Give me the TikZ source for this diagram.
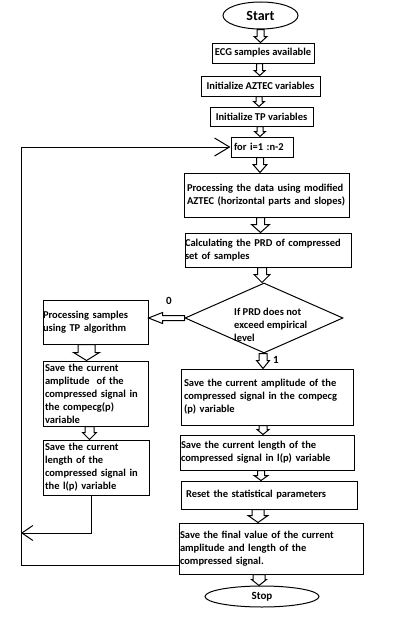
\documentclass[tikz,border=0pt]{standalone}
\usepackage{fontspec}
\setmainfont{Carlito}
\usetikzlibrary{shapes.geometric,calc,arrows.meta}
\tikzset{
  box/.style={draw, line width=1pt, rectangle, inner sep=0pt, align=left,
    font=\bfseries\fontsize{10.5}{13}\selectfont},
  cbox/.style={box, align=center},
  term/.style={draw, line width=1pt, ellipse, inner sep=0pt},
  decision/.style={draw, line width=1pt, diamond, inner sep=0pt},
  plain/.style={inner sep=0pt, align=left, font=\bfseries\fontsize{10.5}{13}\selectfont},
  blk/.style={draw, fill=white, line width=1pt, line join=miter},
  loopline/.style={draw, line width=1pt},
  hd/.style n args={3}{to path={let \p1=(\tikztostart),\p2=(\tikztotarget) in
    (\x1-#1pt,\y1) -- (\x1-#1pt,\y2+#3pt) -- (\x1-#2pt,\y2+#3pt) -- (\x1,\y2)
    -- (\x1+#2pt,\y2+#3pt) -- (\x1+#1pt,\y2+#3pt) -- (\x1+#1pt,\y1) -- cycle}},
  hl/.style n args={3}{to path={let \p1=(\tikztostart),\p2=(\tikztotarget) in
    (\x1,\y1+#1pt) -- (\x2+#3pt,\y1+#1pt) -- (\x2+#3pt,\y1+#2pt) -- (\x2,\y1)
    -- (\x2+#3pt,\y1-#2pt) -- (\x2+#3pt,\y1-#1pt) -- (\x1,\y1-#1pt) -- cycle}}
}
\begin{document}
\begin{tikzpicture}[x=1pt,y=-1pt]
\useasboundingbox (0,0) rectangle (409,621);
\fill[white] (0,0) rectangle (409,621);

\node[term, minimum width=75pt, minimum height=27pt, font=\bfseries\fontsize{14}{16}\selectfont] (start) at (260.5,15.5) {Start};
\node[cbox, minimum width=102pt, minimum height=20pt] (ecg) at (263,53) {ECG samples available};
\node[cbox, minimum width=119pt, minimum height=20pt] (aztec) at (260.5,86) {Initialize AZTEC variables};
\node[cbox, minimum width=103pt, minimum height=19pt] (tp) at (261.5,116.5) {Initialize TP variables};
\node[box, minimum width=62pt, minimum height=20pt, text width=56pt] (for) at (262,147) {for i=1 :n-2};
\node[box, minimum width=165pt, minimum height=44pt, text width=159pt] (proc) at (266.5,195) {\mbox{Processing the data using modified}\\\mbox{AZTEC (horizontal parts and slopes)}};
\node[box, minimum width=166pt, minimum height=34pt, text width=166pt] (calc) at (268,250) {\mbox{Calculating the PRD of compressed}\\\mbox{set of samples}};
\node[decision, minimum width=158pt, minimum height=70pt] (dia) at (264,318) {};
\node[plain, anchor=west] (dtext) at (234,325) {If PRD does not\\exceed empirical\\level};
\node[box, minimum width=105pt, minimum height=44pt, text width=105pt] (tpproc) at (95.5,322) {\mbox{Processing samples}\\\mbox{using TP algorithm}};
\node[box, minimum width=105pt, minimum height=65pt, text width=101pt] (lamp) at (95.5,393.5) {\mbox{Save the current}\\\mbox{amplitude\ \ of the}\\\mbox{compressed signal in}\\\mbox{the compecg(p)}\\\mbox{variable}};
\node[box, minimum width=106pt, minimum height=55pt, text width=102pt] (llen) at (96,467.5) {\mbox{Save the current}\\\mbox{length of the}\\\mbox{compressed signal in}\\\mbox{the l(p) variable}};
\node[box, minimum width=172pt, minimum height=56pt, text width=166pt] (ramp) at (267,397) {\mbox{Save the current amplitude of the}\\\mbox{compressed signal in the compecg}\\\mbox{(p) variable}};
\node[box, minimum width=174pt, minimum height=35pt, text width=172pt] (rlen) at (267,452.5) {\mbox{Save the current length of the}\\\mbox{compressed signal in l(p) variable}};
\node[box, minimum width=176pt, minimum height=28pt, text width=166pt] (reset) at (269,495) {\mbox{Reset the statistical parameters}};
\node[box, minimum width=184pt, minimum height=51pt, text width=182pt] (final) at (271,548.5) {\mbox{Save the final value of the current}\\\mbox{amplitude and length of the}\\\mbox{compressed signal.}};
\node[term, minimum width=114pt, minimum height=21pt, font=\bfseries\fontsize{11}{13}\selectfont] (stop) at (262,596.5) {Stop};

\node[plain, font=\bfseries\fontsize{11}{13}\selectfont] (lab0) at (169,301) {0};
\node[plain, font=\bfseries\fontsize{11}{13}\selectfont] (lab1) at (276,360) {1};

% hollow block arrows
\draw[blk] (start.south) to[hd={3.5}{6.5}{6}] (ecg.north);
\draw[blk] ([xshift=-3.3pt]ecg.south) to[hd={3}{5.5}{5}] (aztec.north);
\draw[blk] ([xshift=-1.5pt]aztec.south) to[hd={3}{5.5}{5}] (tp.north);
\draw[blk] ([xshift=-1.5pt]tp.south) to[hd={3}{5.5}{5}] (for.north);
\draw[blk] ([xshift=-2pt]for.south) to[hd={3.5}{7}{8}] (proc.north);
\draw[blk] ([xshift=-6pt]proc.south) to[hd={4}{9}{8}] (calc.north);
\draw[blk] ([xshift=-6pt]calc.south) to[hd={4.5}{8}{8}] (dia.north);
\draw[blk] ([xshift=-1pt]dia.south) to[hd={4}{6.5}{8}] (ramp.north);
\draw[blk] (dia.west) to[hl={2.5}{5.5}{14}] (tpproc.east);
\draw[blk] ([xshift=-9pt]tpproc.south) to[hd={8.5}{13}{8}] (lamp.north);
\draw[blk] ([xshift=-6pt]lamp.south) to[hd={4.5}{7}{7}] (llen.north);
\draw[blk] ([xshift=-4pt]ramp.south) to[hd={4}{6}{5}] (rlen.north);
\draw[blk] ([xshift=-6pt]rlen.south) to[hd={3.5}{7}{5}] (reset.north);
\draw[blk] ([xshift=-11pt]reset.south) to[hd={6}{10}{7}] (final.north);
\draw[blk] ([xshift=-12pt]final.south) to[hd={6}{7.5}{6}] (stop.north);

% loop connectors
\coordinate (lc) at (21,147);
\coordinate (lb) at (21,533);
\draw[loopline, -{Straight Barb[length=15pt,width=18pt]}] ([yshift=-16.5pt]final.west) -| (lc) -- (for.west);
\draw[loopline, -{Straight Barb[length=11pt,width=15pt]}] ([xshift=-5pt]llen.south) |- (lb);
\end{tikzpicture}
\end{document}
